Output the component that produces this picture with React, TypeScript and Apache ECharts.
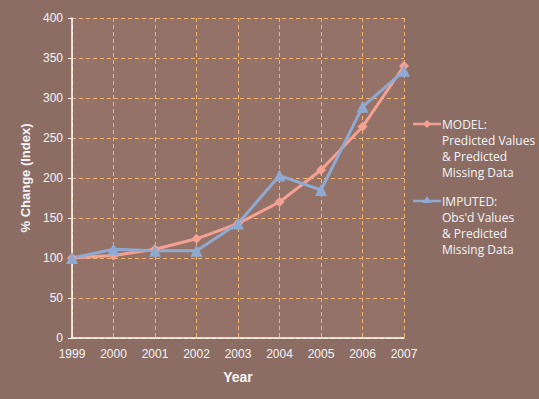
import React, { useEffect, useRef } from "react";
import * as echarts from "echarts";

const years = ["1999", "2000", "2001", "2002", "2003", "2004", "2005", "2006", "2007"];
const modelValues = [100, 103, 111, 124, 143, 170, 210, 264, 340];
const imputedValues = [100, 111, 109, 109, 143, 203, 185, 289, 334];
const modelLabel = ["MODEL:", "Predicted Values", "& Predicted", "Missing Data"];
const imputedLabel = ["IMPUTED:", "Obs'd Values", "& Predicted", "Missing Data"];

const MODEL_COLOR = "#F4A193";
const IMPUTED_COLOR = "#8FAAD2";
const TEXT = "#F4F4F8";
const GRID = "#F2B46A";

export default function App() {
  const ref = useRef<HTMLDivElement>(null);
  useEffect(() => {
    const chart = echarts.init(ref.current!, null, { renderer: "svg" });
    const legendItem = (y: number, color: string, marker: any, lines: string[]) => ({
      type: "group",
      children: [
        { type: "line", shape: { x1: 413, y1: y, x2: 441, y2: y }, style: { stroke: color, lineWidth: 2.5 } },
        marker,
        {
          type: "text",
          x: 442,
          y: y - 8,
          style: {
            text: lines.join("\n"),
            fill: TEXT,
            font: "12px 'Open Sans', sans-serif",
            lineHeight: 16,
            textVerticalAlign: "top",
          },
        },
      ],
    });
    chart.setOption({
      animation: false,
      backgroundColor: "#8C6D63",
      grid: { left: 72, right: 135, top: 18, bottom: 61, show: true, backgroundColor: "#947268", borderWidth: 0 },
      xAxis: {
        type: "category",
        data: years,
        boundaryGap: false,
        name: "Year",
        nameLocation: "middle",
        nameGap: 32,
        nameTextStyle: { color: TEXT, fontWeight: "bold", fontSize: 14, fontFamily: "Liberation Sans, Arial" },
        axisLine: { lineStyle: { color: "#FFFFFF", width: 1.5 } },
        axisTick: { show: false },
        axisLabel: { color: TEXT, fontSize: 12, fontFamily: "Liberation Sans, Arial", margin: 10 },
        splitLine: { show: true, interval: 0, lineStyle: { color: GRID, type: [4, 3], width: 1 } },
      },
      yAxis: {
        type: "value",
        min: 0,
        max: 400,
        interval: 50,
        name: "% Change (Index)",
        nameLocation: "middle",
        nameGap: 39,
        nameTextStyle: { color: TEXT, fontWeight: "bold", fontSize: 13, fontFamily: "Liberation Sans, Arial" },
        axisLine: { show: true, lineStyle: { color: "#FFFFFF", width: 1.5 } },
        axisTick: { show: true, length: 4, lineStyle: { color: "#FFFFFF" } },
        axisLabel: { color: TEXT, fontSize: 12, fontFamily: "Liberation Sans, Arial", margin: 9 },
        splitLine: { show: true, lineStyle: { color: GRID, type: [4, 3], width: 1 } },
      },
      series: [
        {
          name: "MODEL",
          type: "line",
          data: modelValues,
          symbol: "diamond",
          symbolSize: 10,
          lineStyle: { color: MODEL_COLOR, width: 3 },
          itemStyle: { color: MODEL_COLOR },
        },
        {
          name: "IMPUTED",
          type: "line",
          data: imputedValues,
          symbol: "triangle",
          symbolSize: 12,
          lineStyle: { color: IMPUTED_COLOR, width: 3 },
          itemStyle: { color: IMPUTED_COLOR },
        },
      ],
      graphic: [
        legendItem(
          124,
          MODEL_COLOR,
          { type: "polygon", shape: { points: [[427, 120], [431, 124], [427, 128], [423, 124]] }, style: { fill: MODEL_COLOR } },
          modelLabel
        ),
        legendItem(
          201,
          IMPUTED_COLOR,
          { type: "polygon", shape: { points: [[427, 196], [431.5, 203], [422.5, 203]] }, style: { fill: IMPUTED_COLOR } },
          imputedLabel
        ),
      ],
    });
    return () => chart.dispose();
  }, []);
  return <div ref={ref} style={{ width: 539, height: 399, position: "absolute", left: 0, top: 0 }} />;
}
